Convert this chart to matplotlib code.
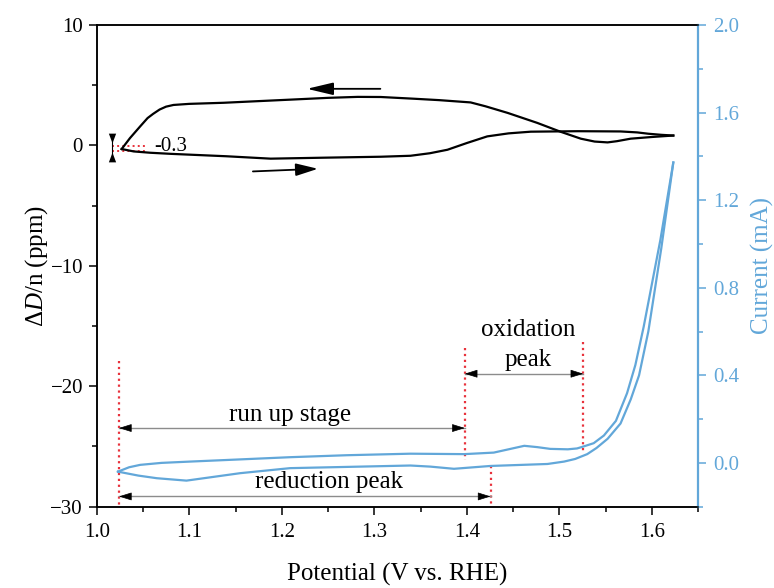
import matplotlib
matplotlib.use("Agg")
import matplotlib.pyplot as plt
from matplotlib.ticker import MultipleLocator

plt.rcParams['font.family'] = ['Liberation Serif', 'DejaVu Serif']
plt.rcParams['mathtext.fontset'] = 'custom'
plt.rcParams['mathtext.rm'] = 'Liberation Serif'
plt.rcParams['mathtext.it'] = 'Liberation Serif:italic'

# dD/n response, forward (anodic) scan
ddn_fwd_v = [1.027, 1.040, 1.058, 1.080, 1.101, 1.140, 1.188, 1.245, 1.307, 1.339,
             1.360, 1.379, 1.400, 1.422, 1.445, 1.469, 1.520, 1.566, 1.584, 1.596,
             1.610, 1.623]
ddn_fwd = [-0.30, -0.50, -0.61, -0.70, -0.77, -0.90, -1.10, -1.02, -0.94, -0.86,
           -0.65, -0.36, 0.20, 0.75, 1.00, 1.14, 1.18, 1.16, 1.08, 0.97,
           0.88, 0.82]

# dD/n response, reverse (cathodic) scan
ddn_rev_v = [1.623, 1.600, 1.577, 1.562, 1.552, 1.538, 1.523, 1.501, 1.476, 1.444,
             1.420, 1.404, 1.370, 1.342, 1.307, 1.282, 1.250, 1.209, 1.170, 1.137,
             1.100, 1.083, 1.075, 1.068, 1.061, 1.055, 1.047, 1.036, 1.027]
ddn_rev = [0.82, 0.70, 0.56, 0.35, 0.25, 0.32, 0.56, 1.14, 1.87, 2.70,
           3.25, 3.57, 3.76, 3.88, 4.02, 4.03, 3.95, 3.80, 3.66, 3.54,
           3.45, 3.36, 3.22, 2.98, 2.62, 2.27, 1.58, 0.61, -0.30]

# CV current, forward scan
cur_fwd_v = [1.023, 1.035, 1.047, 1.070, 1.101, 1.150, 1.209, 1.270, 1.339, 1.397,
             1.429, 1.445, 1.462, 1.476, 1.490, 1.509, 1.519, 1.526, 1.537, 1.548,
             1.561, 1.573, 1.582, 1.591, 1.609, 1.623]
cur_fwd = [-0.040, -0.020, -0.009, 0.000, 0.006, 0.015, 0.026, 0.035, 0.042, 0.040,
           0.047, 0.062, 0.078, 0.072, 0.064, 0.062, 0.066, 0.075, 0.090, 0.125,
           0.192, 0.318, 0.447, 0.622, 1.018, 1.372]

# CV current, reverse scan
cur_rev_v = [1.623, 1.610, 1.596, 1.586, 1.577, 1.566, 1.552, 1.540, 1.530, 1.517,
             1.505, 1.487, 1.4255, 1.386, 1.3605, 1.339, 1.209, 1.155, 1.097, 1.065,
             1.045, 1.023]
cur_rev = [1.372, 0.980, 0.600, 0.400, 0.290, 0.180, 0.110, 0.068, 0.040, 0.018,
           0.006, -0.005, -0.014, -0.027, -0.017, -0.012, -0.024, -0.047, -0.081, -0.070,
           -0.058, -0.040]

# marker potentials for the stage boundaries
v_start = 1.0241
v_runup_end = 1.3977
v_ox_end = 1.5257
v_red_end = 1.4255

blue = '#62a7d9'
red = '#e8323c'

fig = plt.figure(figsize=(7.74, 5.88), dpi=100)
ax = fig.add_axes([0.1249, 0.1383, 0.7773, 0.8192])
ax2 = ax.twinx()

ax.plot(ddn_fwd_v, ddn_fwd, color='black', lw=1.6, zorder=3)
ax.plot(ddn_rev_v, ddn_rev, color='black', lw=1.6, zorder=3)
ax2.plot(cur_fwd_v, cur_fwd, color=blue, lw=1.6)
ax2.plot(cur_rev_v, cur_rev, color=blue, lw=1.6)

ax.set_xlim(1.0, 1.65)
ax.set_ylim(-30, 10)
ax2.set_ylim(-0.2, 2.0)

ax.xaxis.set_major_locator(MultipleLocator(0.1))
ax.xaxis.set_minor_locator(MultipleLocator(0.05))
ax.yaxis.set_major_locator(MultipleLocator(10))
ax.yaxis.set_minor_locator(MultipleLocator(5))
ax2.yaxis.set_major_locator(MultipleLocator(0.4))
ax2.yaxis.set_minor_locator(MultipleLocator(0.2))
ax.xaxis.set_major_formatter(plt.FormatStrFormatter('%.1f'))
ax2.yaxis.set_major_formatter(plt.FormatStrFormatter('%.1f'))

for a in (ax, ax2):
    a.tick_params(which='major', direction='out', length=5.8, width=1.1, labelsize=15, pad=4)
    a.tick_params(which='minor', direction='out', length=3.4, width=1.1)
    for s in a.spines.values():
        s.set_linewidth(1.1)
ax.tick_params(axis='x', pad=6)
ax2.tick_params(axis='y', which='both', colors=blue, pad=5)
ax2.spines['right'].set_color(blue)
ax2.spines['right'].set_linewidth(1.6)

ax.set_xlabel('Potential (V vs. RHE)', fontsize=18, labelpad=15)
ax.set_ylabel(r'Δ$\it{D}$/n (ppm)', fontsize=18, labelpad=0)
ax2.set_ylabel('Current (mA)', fontsize=18, color=blue, labelpad=8)

# scan direction arrows
ax.annotate('', xy=(1.2272, 4.70), xytext=(1.3065, 4.70),
            arrowprops=dict(arrowstyle='-|>,head_length=1.6,head_width=0.38',
                            color='black', lw=1.3, shrinkA=0, shrinkB=0))
ax.annotate('', xy=(1.2391, -1.94), xytext=(1.1688, -2.16),
            arrowprops=dict(arrowstyle='-|>,head_length=1.35,head_width=0.38',
                            color='black', lw=1.3, shrinkA=0, shrinkB=0))

# offset marker at the start of the scan
ax.plot([1.0165, 1.055], [-0.08, -0.08], color=red, ls=':', lw=1.4, zorder=2)
ax.plot([1.0165, 1.055], [-0.44, -0.44], color=red, ls=':', lw=1.4, zorder=2)
ax.plot([1.0162, 1.0162], [0.8, -1.0], color='black', lw=0.8)
ax.plot([1.0162], [0.64], marker=[(-0.75, 1), (0.75, 1), (0, -1)], ms=7, color='black', mew=0)
ax.plot([1.0162], [-0.95], marker=[(-0.75, -1), (0.75, -1), (0, 1)], ms=7, color='black', mew=0)
ax.text(1.062, -0.1, '-0.3', fontsize=15, va='center', ha='left')

# stage boundaries
ax.plot([v_start, v_start], [-17.9, -29.85], color=red, ls=':', lw=1.6)
ax.plot([v_runup_end, v_runup_end], [-16.8, -26.1], color=red, ls=':', lw=1.6)
ax.plot([v_ox_end, v_ox_end], [-16.3, -25.4], color=red, ls=':', lw=1.6)
ax.plot([v_red_end, v_red_end], [-26.6, -30.0], color=red, ls=':', lw=1.6)


def span_arrow(x0, x1, y):
    ax.plot([x0, x1], [y, y], color='#8c8c8c', lw=1.0)
    head = dict(arrowstyle='-|>,head_length=0.8,head_width=0.25',
                color='black', lw=0.5, shrinkA=0, shrinkB=0)
    ax.annotate('', xy=(x0, y), xytext=(x0 + 0.012, y), arrowprops=head)
    ax.annotate('', xy=(x1, y), xytext=(x1 - 0.012, y), arrowprops=head)


span_arrow(v_start, v_runup_end, -23.47)
span_arrow(v_runup_end, v_ox_end, -18.96)
span_arrow(v_start, v_red_end, -29.15)

ax.text(1.209, -22.87, 'run up stage', fontsize=18, ha='center', va='baseline')
ax.text(1.2513, -28.46, 'reduction peak', fontsize=18, ha='center', va='baseline')
ax.text(1.4666, -15.8, 'oxidation', fontsize=18, ha='center', va='baseline')
ax.text(1.4666, -18.3, 'peak', fontsize=18, ha='center', va='baseline')

fig.savefig('out.png', dpi=100)
